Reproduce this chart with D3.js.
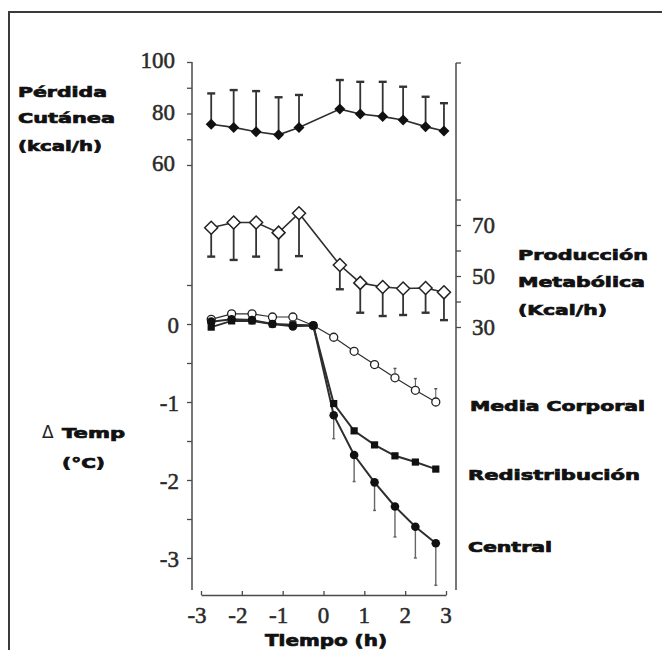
<!DOCTYPE html>
<html><head><meta charset="utf-8">
<script src="https://cdn.jsdelivr.net/npm/d3@7"></script>
<style>html,body{margin:0;padding:0;background:#fff;}svg{display:block;}</style>
</head><body>
<svg id="c" width="662" height="650"></svg>
<script>
// ---------- data ----------
const timeTop = [-2.75,-2.2,-1.65,-1.1,-0.6,0.4,0.9,1.45,1.95,2.5,2.95];
const perdida = [75.8,74.6,72.9,71.7,74.6,81.7,79.8,78.8,77.5,74.9,73.2];
const perdidaErr = [12,14.5,15.8,14.6,12.6,11.3,12.5,13.5,12.9,11.6,10.8];
const produccion = [68.9,71.0,71.0,67.0,74.6,54.3,47.3,45.7,45.1,45.3,43.6];
const produccionErr = [11.3,14.7,13.4,14.6,16.8,9.5,11.7,11.4,10.4,9.7,10.9];

const timeTemp = [-2.75,-2.25,-1.75,-1.25,-0.75,-0.25,0.25,0.75,1.25,1.75,2.25,2.75];
const media = [0.06,0.13,0.13,0.09,0.09,-0.02,-0.17,-0.35,-0.52,-0.69,-0.85,-1.0];
const mediaErr = [0,0,0,0,0,0,0,0,0,0.12,0.15,0.17];
const redistrib = [-0.04,0.04,0.04,0,-0.01,-0.02,-1.02,-1.37,-1.55,-1.69,-1.77,-1.86];
const central = [0.03,0.06,0.05,0,-0.03,-0.02,-1.17,-1.68,-2.03,-2.34,-2.6,-2.81];
const centralErr = [0,0,0,0,0,0,0.3,0.34,0.36,0.39,0.4,0.54];

const xTicks = [-3,-2,-1,0,1,2,3];
const topTicks = [100,90,80,70,60];
const topLabels = [100,80,60];
const rightTicks = [80,70,60,50,40,30];
const rightLabels = [70,50,30];
const tempTicks = [0.5,0,-0.5,-1,-1.5,-2,-2.5,-3];
const tempLabels = [0,-1,-2,-3];

// ---------- scales ----------
const svg = d3.select("#c");
const x = d3.scaleLinear().domain([-3,3]).range([201,446]);
const yTop = d3.scaleLinear().domain([60,100]).range([165,62]);
const yRight = d3.scaleLinear().domain([30,70]).range([327,225]);
const yT = d3.scaleLinear().domain([0,-3]).range([324,558]);

const AX = "#4a4a4a", LN = "#2e2e2e";
const serif = "'Liberation Serif','Times New Roman',serif";
const bold = "'DejaVu Sans',Arial,sans-serif";

// frame
svg.append("path").attr("d","M9,650V12H662").attr("fill","none").attr("stroke","#3a3a3a").attr("stroke-width",2);

// ---------- axes ----------
const leftX = 192, rightX = 456, axBottom = 590, xAxisY = 595;
svg.append("line").attr("x1",leftX).attr("x2",leftX).attr("y1",62).attr("y2",axBottom).attr("stroke",AX).attr("stroke-width",1.5);
svg.append("line").attr("x1",rightX).attr("x2",rightX).attr("y1",63).attr("y2",axBottom).attr("stroke",AX).attr("stroke-width",1.5);

function noDomain(g){ g.select(".domain").remove(); g.selectAll("text").remove(); g.selectAll("line").attr("stroke",AX).attr("stroke-width",1.3); }
svg.append("g").attr("transform",`translate(${leftX},0)`).call(d3.axisLeft(yTop).tickValues(topTicks).tickSize(5)).call(noDomain);
svg.append("g").attr("transform",`translate(${leftX},0)`).call(d3.axisLeft(yT).tickValues(tempTicks).tickSize(5)).call(noDomain);
svg.append("g").attr("transform",`translate(${rightX},0)`).call(d3.axisRight(yRight).tickValues(rightTicks).tickSize(5)).call(noDomain);
svg.append("line").attr("x1",rightX).attr("x2",rightX+5).attr("y1",63).attr("y2",63).attr("stroke",AX).attr("stroke-width",1.3);

const xAxis = svg.append("g").attr("transform",`translate(0,${xAxisY})`)
  .call(d3.axisBottom(x).tickValues(xTicks).tickSizeInner(-4).tickSizeOuter(0));
xAxis.select(".domain").attr("stroke",AX).attr("stroke-width",1.5);
xAxis.selectAll("line").attr("stroke",AX).attr("stroke-width",1.3);
xAxis.selectAll("text").remove();

// tick labels
const lab = svg.append("g").attr("font-family",serif).attr("font-size",23).attr("fill","#2a2a2a")
  .attr("stroke","#2a2a2a").attr("stroke-width",0.5);
lab.selectAll(".tl").data(topLabels).join("text").attr("x",175).attr("y",d=>yTop(d)+6).attr("text-anchor","end").text(d=>d);
lab.selectAll(".tt").data(tempLabels).join("text").attr("x",179).attr("y",d=>yT(d)+8.5).attr("text-anchor","end").text(d=>d);
lab.selectAll(".tr").data(rightLabels).join("text").attr("x",472).attr("y",d=>yRight(d)+7.5).attr("text-anchor","start").text(d=>d);
lab.selectAll(".tx").data(xTicks).join("text").attr("x",d=>x(d)-(d<0?4:0)).attr("y",623).attr("text-anchor","middle").text(d=>d);

// bold labels
function blab(t,x0,yb,w,fs){
  svg.append("text").attr("x",x0).attr("y",yb).attr("font-family",bold).attr("font-weight","bold")
    .attr("font-size",fs||14).attr("fill","#111").attr("stroke","#111").attr("stroke-width",0.7)
    .attr("textLength",w).attr("lengthAdjust","spacingAndGlyphs").text(t);
}
blab("Pérdida",18,97,89);
blab("Cutánea",18,123,97);
blab("(kcal/h)",18,151,84);
blab("Producción",518,260,130);
blab("Metabólica",518,287,127);
blab("(Kcal/h)",518,315,89);
blab("Media Corporal",470,411,175);
blab("Redistribución",468,480,172);
blab("Central",468,552,84);
svg.append("text").attr("x",42).attr("y",438).attr("font-family",bold).attr("font-size",17).attr("fill","#222").text("Δ");
blab("Temp",62,438,63);
blab("(°C)",62,468,43);
blab("Tiempo (h)",265,646,122,15);

// ---------- series ----------
function zip(t,v,e){ return t.map((d,i)=>({t:d,v:v[i],e:e?e[i]:0})); }
const dPer = zip(timeTop,perdida,perdidaErr);
const dPro = zip(timeTop,produccion,produccionErr);
const dMed = zip(timeTemp,media,mediaErr);
const dRed = zip(timeTemp,redistrib);
const dCen = zip(timeTemp,central,centralErr);

function errBars(data,y,dir,cap,sw,capw,col){
  const g = svg.append("g");
  data.filter(d=>d.e>0).forEach(d=>{
    const y0=y(d.v), y1=y(d.v+dir*d.e);
    g.append("line").attr("x1",x(d.t)).attr("x2",x(d.t)).attr("y1",y0).attr("y2",y1).attr("stroke",col).attr("stroke-width",sw);
    g.append("line").attr("x1",x(d.t)-cap).attr("x2",x(d.t)+cap).attr("y1",y1).attr("y2",y1).attr("stroke",col).attr("stroke-width",capw);
  });
}
function line(data,y,sw){
  svg.append("path").datum(data).attr("fill","none").attr("stroke",LN).attr("stroke-width",sw)
    .attr("d",d3.line().x(d=>x(d.t)).y(d=>y(d.v)));
}
const diamond = r=>`M0,${-r}L${r},0L0,${r}L${-r},0Z`;

// Pérdida cutánea
errBars(dPer,yTop,1,4,1.8,2.4,"#333");
line(dPer,yTop,1.6);
svg.append("g").selectAll("path").data(dPer).join("path").attr("d",diamond(5.5))
  .attr("transform",d=>`translate(${x(d.t)},${yTop(d.v)})`).attr("fill","#111");

// Producción metabólica
errBars(dPro,yRight,-1,4,1.8,2.4,"#333");
line(dPro,yRight,1.6);
svg.append("g").selectAll("path").data(dPro).join("path").attr("d",diamond(6.5))
  .attr("transform",d=>`translate(${x(d.t)},${yRight(d.v)})`).attr("fill","#fff").attr("stroke","#222").attr("stroke-width",1.5);

// Temperatures
errBars(dMed,yT,1,1.5,1,1.5,"#555");
errBars(dCen,yT,-1,1.5,1.4,1.5,"#666");
line(dMed,yT,1.2);
line(dRed,yT,2);
line(dCen,yT,2);
svg.append("g").selectAll("circle").data(dMed).join("circle").attr("cx",d=>x(d.t)).attr("cy",d=>yT(d.v)).attr("r",4)
  .attr("fill","#fff").attr("stroke","#222").attr("stroke-width",1.3);
svg.append("g").selectAll("circle").data(dCen).join("circle").attr("cx",d=>x(d.t)).attr("cy",d=>yT(d.v)).attr("r",4.3).attr("fill","#111");
svg.append("g").selectAll("rect").data(dRed).join("rect").attr("x",d=>x(d.t)-3.6).attr("y",d=>yT(d.v)-3.6)
  .attr("width",7.2).attr("height",7.2).attr("fill","#111");
</script>
</body></html>
